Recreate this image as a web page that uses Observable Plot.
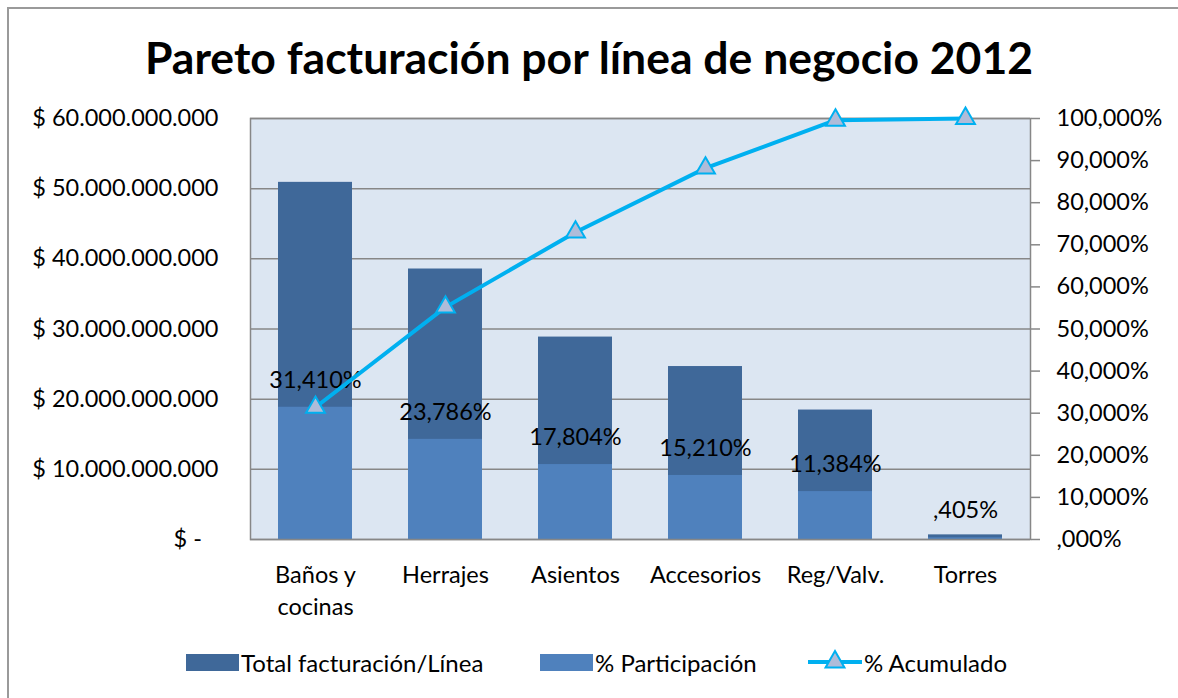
<!DOCTYPE html>
<html>
<head>
<meta charset="utf-8">
<script src="https://cdn.jsdelivr.net/npm/d3@7"></script>
<script src="https://cdn.jsdelivr.net/npm/@observablehq/plot@0.6"></script>
<style>
  html, body { margin: 0; padding: 0; background: #fff; }
  #wrap { position: relative; width: 1178px; height: 698px; overflow: hidden; font-family: Lato, "Open Sans", sans-serif; }
  #border { position: absolute; left: 7px; top: 7px; width: 1200px; height: 800px; border-left: 2px solid #9a9a9a; border-top: 2px solid #9a9a9a; }
  #title { position: absolute; left: 0; width: 1178px; top: 28px; text-align: center; font-weight: bold; font-size: 44.5px; color: #000; line-height: 58px; }
  #chart { position: absolute; left: 0; top: 100px; }
  #legend { position: absolute; left: 0; top: 648px; width: 1178px; height: 28px; font-size: 24px; color: #000; }
  .item { position: absolute; top: 0; display: flex; align-items: center; height: 28px; white-space: nowrap; }
  .sw { display: inline-block; width: 53px; height: 17px; margin-right: 2px; }
</style>
</head>
<body>
<div id="wrap">
  <div id="border"></div>
  <div id="title">Pareto facturación por línea de negocio 2012</div>
  <div id="chart"></div>
  <div id="legend"></div>
</div>
<script>
// ---- Data ----
const categories = ["Baños y\ncocinas", "Herrajes", "Asientos", "Accesorios", "Reg/Valv.", "Torres"];
const totalFacturacion = [50.9e9, 38.55e9, 28.85e9, 24.65e9, 18.45e9, 0.66e9];
const participacion = [31.410, 23.786, 17.804, 15.210, 11.384, 0.405];
const acumulado = [31.410, 55.196, 73.000, 88.210, 99.594, 100.000];
const moneyTicks = [0, 10e9, 20e9, 30e9, 40e9, 50e9, 60e9];
const pctTicks = [0, 10, 20, 30, 40, 50, 60, 70, 80, 90, 100];
const seriesNames = ["Total facturación/Línea", "% Participación", "% Acumulado"];

const colors = { total: "#3F6899", part: "#4F81BD", line: "#00B0F0", marker: "#AFBCD9", grid: "#878787", bg: "#DCE6F2" };

const rows = categories.map((c, i) => ({ cat: c, total: totalFacturacion[i], part: participacion[i], cum: acumulado[i] }));

// secondary axis (0–100 %) mapped onto primary scale (0–60.000.000.000)
const yMax = 60e9;
const pctToY = p => p / 100 * yMax;

const fmtMoney = v => v === 0 ? "$ -\u2007\u2009" : "$ " + d3.format(",")(v).replace(/,/g, ".");
const fmtPct = p => {
  let s = p.toFixed(3).replace(".", ",");
  if (s.startsWith("0,")) s = s.slice(1);
  return s + "%";
};

const FS = 23.5;
const chart = Plot.plot({
  width: 1178,
  height: 540,
  marginLeft: 250,
  marginRight: 148,
  marginTop: 18,
  marginBottom: 101,
  style: { fontFamily: "Lato, 'Open Sans', sans-serif", fontSize: FS + "px", color: "#000", background: "transparent" },
  x: { domain: categories, paddingInner: 0.43, paddingOuter: 0.215 },
  y: { domain: [0, yMax] },
  marks: [
    Plot.frame({ fill: colors.bg, stroke: null }),
    Plot.gridY(moneyTicks, { stroke: colors.grid, strokeOpacity: 1, strokeWidth: 1.5 }),
    Plot.barY(rows, { x: "cat", y: "total", fill: colors.total }),
    Plot.barY(rows, { x: "cat", y: d => pctToY(d.part), fill: colors.part }),
    Plot.frame({ stroke: colors.grid, strokeWidth: 1.5 }),
    Plot.text(rows, { x: "cat", y: d => pctToY(d.part), text: d => fmtPct(d.part), dy: -27, fontSize: FS, fill: "#000" }),
    Plot.line(rows, { x: "cat", y: d => pctToY(d.cum), stroke: colors.line, strokeWidth: 4 }),
    Plot.dot(rows, { x: "cat", y: d => pctToY(d.cum), symbol: "triangle", r: 7, fill: colors.marker, stroke: colors.line, strokeWidth: 2 }),
    Plot.axisY(moneyTicks, { anchor: "left", tickSize: 0, tickPadding: 32, tickFormat: fmtMoney, fontSize: FS, label: null }),
    Plot.axisY(pctTicks.map(pctToY), { anchor: "right", tickSize: 9, tickPadding: 17, stroke: colors.grid, strokeWidth: 1.5, tickFormat: v => fmtPct(Math.round(v / yMax * 100)), fontSize: FS, label: null }),
    Plot.axisX({ tickSize: 0, tickPadding: 21, fontSize: FS, lineHeight: 1.36, label: null, lineAnchor: "top" })
  ]
});
document.getElementById("chart").appendChild(chart);

// ---- Legend ----
const legend = d3.select("#legend");
const lefts = [186, 540, 808];
seriesNames.forEach((name, i) => {
  const item = legend.append("div").attr("class", "item").style("left", lefts[i] + "px");
  if (i < 2) {
    item.append("span").attr("class", "sw").style("background", i === 0 ? colors.total : colors.part);
  } else {
    const svg = item.append("svg").attr("width", 54).attr("height", 28).style("margin-right", "2px");
    svg.append("line").attr("x1", 0).attr("x2", 54).attr("y1", 14).attr("y2", 14).attr("stroke", colors.line).attr("stroke-width", 4);
    svg.append("path").attr("transform", "translate(27,14)").attr("d", d3.symbol(d3.symbolTriangle, 154)()).attr("fill", colors.marker).attr("stroke", colors.line).attr("stroke-width", 2);
  }
  item.append("span").text(name);
});
</script>
</body>
</html>
